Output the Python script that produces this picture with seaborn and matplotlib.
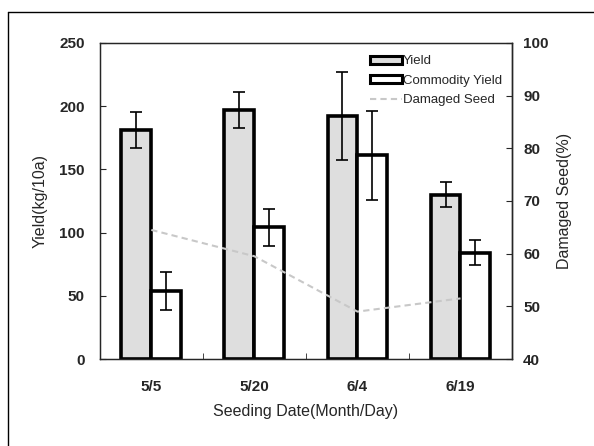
import matplotlib
matplotlib.use("Agg")
import matplotlib.pyplot as plt
import seaborn as sns
import pandas as pd
import numpy as np
from matplotlib.patches import Patch
from matplotlib.lines import Line2D

# data
dates = ["5/5", "5/20", "6/4", "6/19"]
yield_vals = [181, 197, 192, 130]
yield_err = [14, 14, 35, 10]
commodity_vals = [54, 104, 161, 84]
commodity_err = [15, 15, 35, 10]
damaged_seed = [64.5, 59.5, 49.0, 51.5]

sns.set_style("ticks")
plt.rcParams['font.family'] = ['Liberation Sans', 'DejaVu Sans']

df = pd.DataFrame({
    "date": dates * 2,
    "value": yield_vals + commodity_vals,
    "kind": ["Yield"] * 4 + ["Commodity Yield"] * 4,
})

fig = plt.figure(figsize=(5.94, 4.46), dpi=100)
ax = fig.add_axes([0.168, 0.195, 0.694, 0.709])

sns.barplot(data=df, x="date", y="value", hue="kind", order=dates,
            hue_order=["Yield", "Commodity Yield"],
            palette=["#dedede", "white"], width=0.58, gap=0,
            edgecolor="black", linewidth=2.6, errorbar=None,
            legend=False, ax=ax, saturation=1)

# error bars at bar centres
for cont, errs, vals in zip(ax.containers, [yield_err, commodity_err],
                            [yield_vals, commodity_vals]):
    xs = [b.get_x() + b.get_width() / 2 for b in cont]
    ax.errorbar(xs, vals, yerr=errs, fmt="none", ecolor="black",
                elinewidth=1.2, capsize=4, capthick=1.2, zorder=5)

ax.set_xlim(-0.5, 3.5)
ax.set_ylim(0, 250)
ax.set_yticks([0, 50, 100, 150, 200, 250])
ax.set_xticks(np.arange(4) + 0.5, minor=True)
ax.tick_params(axis="x", which="major", length=0, pad=15, labelsize=11)
ax.tick_params(axis="x", which="minor", direction="in", length=4)
ax.tick_params(axis="y", direction="in", length=4, pad=11, labelsize=11)
for lbl in ax.get_xticklabels() + ax.get_yticklabels():
    lbl.set_fontweight("semibold")
ax.set_xlabel("Seeding Date(Month/Day)", fontsize=11.5, labelpad=7)
ax.set_ylabel("Yield(kg/10a)", fontsize=11.5, labelpad=8)
for s in ax.spines.values():
    s.set_linewidth(1.0)

ax2 = ax.twinx()
ax2.plot(np.arange(len(dates)), damaged_seed, color="#c8c8c8",
         linestyle=(0, (3, 2)), linewidth=1.5, zorder=6)
ax2.set_ylim(40, 100)
ax2.set_yticks([40, 50, 60, 70, 80, 90, 100])
ax2.tick_params(axis="y", direction="in", length=4, pad=8, labelsize=11)
for lbl in ax2.get_yticklabels():
    lbl.set_fontweight("semibold")
ax2.set_ylabel("Damaged Seed(%)", fontsize=11.5, labelpad=6)
ax2.spines["right"].set_linewidth(1.0)

handles = [
    Patch(facecolor="#dedede", edgecolor="black", linewidth=2.2, label="Yield"),
    Patch(facecolor="white", edgecolor="black", linewidth=2.2, label="Commodity Yield"),
    Line2D([], [], color="#c8c8c8", linestyle=(0, (3, 2)), linewidth=1.5,
           label="Damaged Seed"),
]
ax2.legend(handles=handles, loc="upper right", bbox_to_anchor=(0.995, 0.985),
           frameon=False, fontsize=9.5, handlelength=2.4, handleheight=0.6,
           handletextpad=0.1, labelspacing=0.55, borderaxespad=0.2)

# outer frame (left and top edges visible in the reference)
fig.add_artist(Line2D([0.013, 0.013], [0.0, 0.972], color="black",
                      linewidth=1.0, transform=fig.transFigure))
fig.add_artist(Line2D([0.013, 1.0], [0.972, 0.972], color="black",
                      linewidth=1.0, transform=fig.transFigure))

fig.savefig("out.png", dpi=100)
